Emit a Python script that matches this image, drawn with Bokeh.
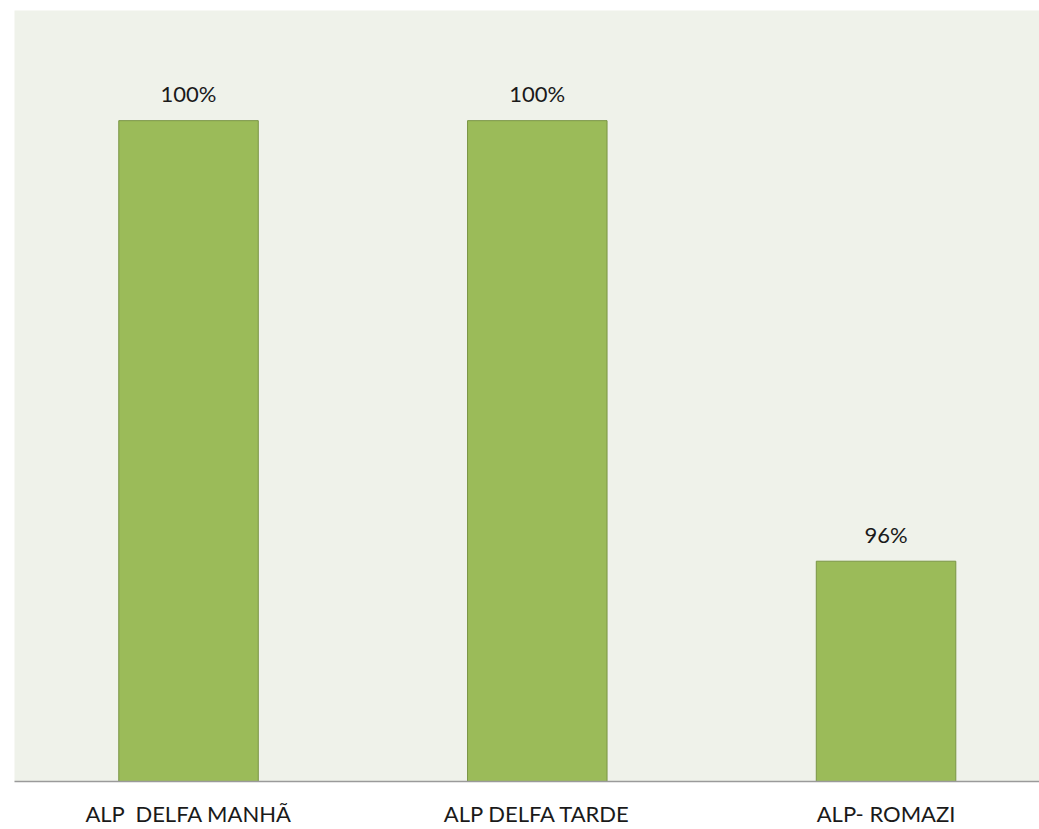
from bokeh.plotting import figure
from bokeh.models import ColumnDataSource, Range1d, FixedTicker
from bokeh.core.properties import value
from bokeh.embed import file_html
from bokeh.resources import INLINE

categories = ["ALP\u00a0 DELFA MANHÃ", "ALP DELFA TARDE", "ALP- ROMAZI"]
values = [100, 100, 96]
value_labels = ["100%", "100%", "96%"]

xs = list(range(len(categories)))
src = ColumnDataSource(dict(x=xs, top=values, lbl=value_labels))

p = figure(width=1039, height=829, output_backend="svg", toolbar_location=None,
           x_range=Range1d(-0.499, 2.44), y_range=Range1d(94, 101),
           min_border_left=14, min_border_right=0, min_border_top=10, min_border_bottom=48)
p.background_fill_color = "#EFF2EA"
p.border_fill_color = "white"
p.outline_line_color = None
p.grid.visible = False
p.yaxis.visible = False

p.vbar(x="x", top="top", bottom=94, width=0.4, source=src,
       fill_color="#9BBB59", line_color="#7A9545", line_width=1)

p.text(x="x", y="top", text="lbl", source=src, y_offset=-27,
       text_align="center", text_baseline="alphabetic",
       text_font=value("Lato"), text_font_size="22px", text_color="#1a1a1a")

ax = p.xaxis[0]
ax.ticker = FixedTicker(ticks=xs)
ax.major_label_overrides = {i: c for i, c in enumerate(categories)}
ax.major_tick_line_color = None
ax.minor_tick_line_color = None
ax.major_tick_out = 0
ax.major_tick_in = 0
ax.axis_line_color = "#9A9A9A"
ax.axis_line_width = 1.5
ax.major_label_standoff = 18
ax.major_label_text_font = "Lato"
ax.major_label_text_font_size = "22px"
ax.major_label_text_color = "#1a1a1a"

open("out.html", "w").write(file_html(p, INLINE))
